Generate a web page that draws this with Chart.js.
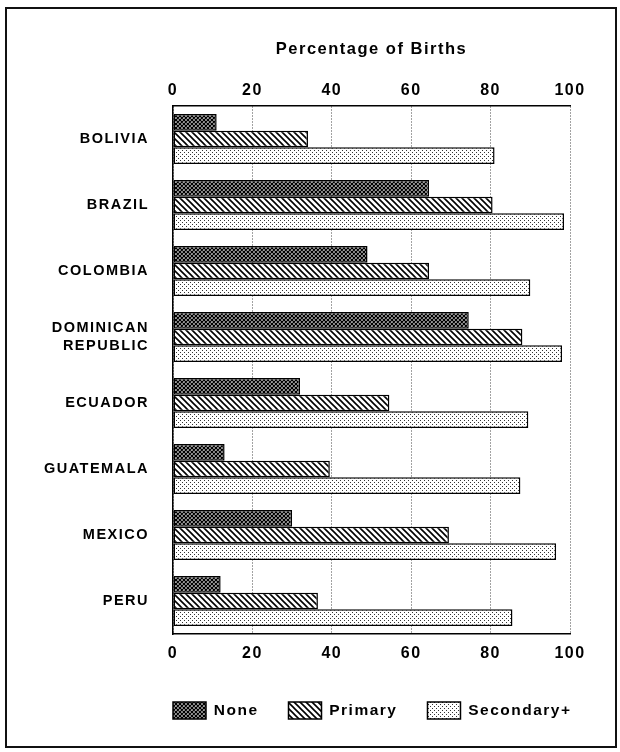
<!DOCTYPE html>
<html>
<head>
<meta charset="utf-8">
<script src="https://cdn.jsdelivr.net/npm/chart.js@4.4.1/dist/chart.umd.min.js"></script>
<style>
  html, body { margin: 0; padding: 0; background: #fff; }
  #wrap { position: relative; width: 620px; height: 752px; }
  #frame {
    position: absolute; left: 5px; top: 7px; width: 612px; height: 741px;
    box-sizing: border-box; border: 2px solid #111; pointer-events: none;
  }
</style>
</head>
<body>
<div id="wrap">
  <canvas id="births" width="620" height="752"></canvas>
  <div id="frame"></div>
</div>
<script>
// values (percent of births)
const countries = ['BOLIVIA', 'BRAZIL', 'COLOMBIA', ['DOMINICAN', 'REPUBLIC'], 'ECUADOR', 'GUATEMALA', 'MEXICO', 'PERU'];
const noneEdu = [11, 64.5, 49, 74.5, 32, 13, 30, 12];
const primaryEdu = [34, 80.5, 64.5, 88, 54.5, 39.5, 69.5, 36.5];
const secondaryEdu = [81, 98.5, 90, 98, 89.5, 87.5, 96.5, 85.5];
const ticksPct = [0, 20, 40, 60, 80, 100];

const FONT = '"Liberation Sans", Arial, Helvetica, sans-serif';

// hatch fills like the old printed chart
function makePattern(kind) {
    const c = document.createElement('canvas');
    const s = kind === 'diag' ? 6 : 4;
    c.width = s; c.height = s;
    const g = c.getContext('2d');
    g.fillStyle = '#fff';
    g.fillRect(0, 0, s, s);
    g.strokeStyle = '#000';
    if (kind === 'cross') {
        g.lineWidth = 1.4;
        g.beginPath();
        for (const k of [-s, 0, s]) {
            g.moveTo(-1, -1 + k); g.lineTo(s + 1, s + 1 + k);
            g.moveTo(-1, s + 1 + k); g.lineTo(s + 1, -1 + k);
        }
        g.stroke();
    } else if (kind === 'diag') {
        g.lineWidth = 1.6;
        g.beginPath();
        for (const k of [-s, 0, s]) {
            g.moveTo(-1, -1 + k); g.lineTo(s + 1, s + 1 + k);
        }
        g.stroke();
    } else {
        g.fillStyle = '#333';
        g.fillRect(0, 0, 1, 1);
        g.fillRect(2, 2, 1, 1);
    }
    return g.createPattern(c, 'repeat');
}

// letter spacing to mimic the wide printer font
const spacing = {
    id: 'spacing',
    beforeUpdate(chart) { chart.ctx.letterSpacing = '1.5px'; },
    beforeDraw(chart) { chart.ctx.letterSpacing = '1.5px'; }
};

// put legend start under the plot's left edge
const legendShift = {
    id: 'legendShift',
    afterLayout(chart) {
        const lg = chart.legend;
        if (!lg) return;
        const dx = chart.chartArea.left - lg.options.labels.padding - lg.left;
        lg.left += dx;
        lg.right += dx;
    }
};

Chart.defaults.color = '#000';
Chart.defaults.font.family = FONT;
Chart.defaults.font.weight = 'bold';

new Chart(document.getElementById('births'), {
    type: 'bar',
    data: {
        labels: countries,
        datasets: [
            { label: 'None', data: noneEdu, backgroundColor: makePattern('cross') },
            { label: 'Primary', data: primaryEdu, backgroundColor: makePattern('diag') },
            { label: 'Secondary+', data: secondaryEdu, backgroundColor: makePattern('dots') }
        ]
    },
    options: {
        indexAxis: 'y',
        responsive: false,
        animation: false,
        events: [],
        categoryPercentage: 0.76,
        barPercentage: 1.0,
        datasets: {
            bar: { borderColor: '#000', borderWidth: 1.5, borderSkipped: false }
        },
        layout: { padding: { left: 0, right: 50, top: 0, bottom: 23 } },
        plugins: {
            legend: {
                position: 'bottom',
                align: 'start',
                labels: {
                    boxWidth: 33,
                    boxHeight: 17,
                    padding: 30,
                    font: { size: 15.5, weight: 'bold' }
                }
            },
            tooltip: { enabled: false }
        },
        scales: {
            x: {
                position: 'top',
                min: 0, max: 100,
                afterBuildTicks(axis) { axis.ticks = ticksPct.map(v => ({ value: v })); },
                afterFit(axis) { axis.height = 106; },
                ticks: { padding: 6, font: { size: 16, weight: 'bold' } },
                grid: { color: '#444', lineWidth: 1, drawTicks: false },
                border: { display: true, color: '#000', width: 1.5, dash: [1, 2] },
                title: {
                    display: true,
                    text: 'Percentage of Births',
                    padding: { top: 40, bottom: 0 },
                    font: { size: 16.5, weight: 'bold' }
                }
            },
            x2: {
                position: 'bottom',
                min: 0, max: 100,
                afterBuildTicks(axis) { axis.ticks = ticksPct.map(v => ({ value: v })); },
                afterFit(axis) { axis.height = 38; },
                ticks: { padding: 10, font: { size: 16, weight: 'bold' } },
                grid: { display: false, drawTicks: false },
                border: { display: true, color: '#000', width: 1.5 }
            },
            y: {
                afterFit(axis) { axis.width = 173; },
                ticks: { padding: 24, font: { size: 14.5, weight: 'bold', lineHeight: 1.3 } },
                grid: { display: false, drawTicks: false },
                border: { display: true, color: '#000', width: 1.5 }
            }
        }
    },
    plugins: [spacing, legendShift]
});
</script>
</body>
</html>
